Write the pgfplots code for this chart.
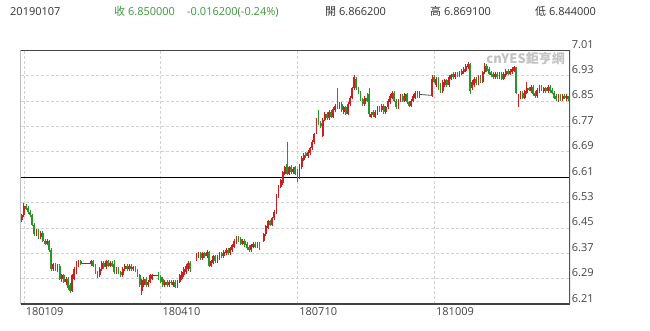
\documentclass[border=0pt]{standalone}
\usepackage{pgfplots}
\usepackage{pgfplotstable}
\pgfplotsset{compat=1.18}
\usepackage{fontspec}
\setmainfont{Open Sans}
\newfontfamily\cjk{Noto Sans CJK TC}
\definecolor{cred}{HTML}{CC2020}
\definecolor{cgreen}{HTML}{2A9428}
\definecolor{hdr}{HTML}{333333}
\definecolor{hgreen}{HTML}{3C963C}
\definecolor{lbl}{HTML}{444444}
\definecolor{framec}{HTML}{444444}
\definecolor{framer}{HTML}{3D5A75}
\pgfplotstableread{
x o h l c
0 6.475 6.495 6.468 6.490
1 6.490 6.528 6.485 6.520
2 6.520 6.525 6.505 6.510
3 6.512 6.518 6.495 6.500
4 6.500 6.505 6.485 6.490
5 6.490 6.495 6.455 6.460
6 6.460 6.465 6.425 6.430
7 6.430 6.445 6.425 6.440
8 6.440 6.445 6.415 6.420
9 6.420 6.440 6.415 6.435
10 6.435 6.440 6.405 6.410
11 6.410 6.415 6.395 6.400
12 6.400 6.415 6.395 6.410
13 6.410 6.412 6.375 6.380
14 6.380 6.385 6.315 6.320
15 6.320 6.340 6.315 6.335
16 6.335 6.340 6.315 6.320
17 6.320 6.335 6.310 6.330
18 6.330 6.335 6.285 6.290
19 6.290 6.305 6.280 6.300
20 6.300 6.305 6.275 6.280
21 6.280 6.295 6.270 6.290
22 6.290 6.295 6.255 6.260
23 6.270 6.275 6.245 6.250
24 6.250 6.305 6.248 6.300
25 6.290 6.325 6.285 6.320
26 6.310 6.345 6.305 6.340
27 6.330 6.350 6.325 6.345
28 6.345 6.350 6.332 6.337
33 6.335 6.350 6.330 6.345
34 6.345 6.350 6.325 6.330
35 6.330 6.335 6.305 6.310
36 6.310 6.315 6.292 6.300
37 6.300 6.325 6.295 6.320
38 6.320 6.345 6.315 6.340
39 6.340 6.345 6.320 6.325
40 6.325 6.350 6.320 6.345
41 6.345 6.350 6.325 6.330
42 6.330 6.345 6.325 6.340
43 6.340 6.345 6.325 6.330
44 6.335 6.348 6.305 6.310
45 6.310 6.325 6.305 6.320
46 6.320 6.325 6.305 6.310
47 6.310 6.315 6.295 6.300
48 6.300 6.325 6.295 6.320
49 6.320 6.335 6.315 6.330
50 6.330 6.335 6.315 6.320
51 6.320 6.335 6.315 6.330
52 6.330 6.335 6.315 6.320
53 6.320 6.330 6.315 6.325
54 6.325 6.330 6.310 6.315
55 6.315 6.320 6.295 6.300
56 6.300 6.305 6.265 6.270
57 6.250 6.290 6.238 6.285
58 6.270 6.295 6.265 6.290
59 6.290 6.295 6.265 6.270
60 6.270 6.285 6.265 6.280
61 6.280 6.305 6.275 6.300
62 6.290 6.305 6.285 6.300
65 6.300 6.310 6.285 6.290
66 6.295 6.300 6.275 6.280
67 6.290 6.295 6.265 6.270
68 6.270 6.285 6.265 6.280
69 6.280 6.285 6.265 6.270
70 6.270 6.285 6.265 6.280
71 6.280 6.285 6.270 6.275
72 6.270 6.285 6.265 6.280
73 6.280 6.285 6.260 6.265
74 6.265 6.285 6.260 6.280
75 6.280 6.305 6.275 6.300
76 6.290 6.315 6.285 6.310
77 6.300 6.325 6.295 6.320
78 6.310 6.335 6.305 6.330
79 6.320 6.345 6.315 6.340
80 6.340 6.345 6.310 6.320
83 6.350 6.370 6.345 6.365
84 6.360 6.375 6.355 6.370
85 6.370 6.375 6.350 6.355
86 6.355 6.375 6.350 6.370
87 6.370 6.375 6.355 6.360
88 6.360 6.380 6.355 6.375
89 6.375 6.378 6.325 6.330
90 6.330 6.350 6.325 6.345
91 6.340 6.365 6.335 6.360
92 6.360 6.365 6.340 6.345
93 6.345 6.365 6.340 6.360
94 6.355 6.375 6.350 6.370
95 6.370 6.375 6.355 6.360
96 6.360 6.380 6.355 6.375
97 6.370 6.385 6.365 6.380
98 6.380 6.385 6.365 6.370
99 6.370 6.390 6.365 6.385
100 6.380 6.400 6.375 6.395
101 6.390 6.415 6.385 6.410
102 6.405 6.425 6.400 6.420
103 6.420 6.425 6.405 6.410
104 6.415 6.420 6.395 6.400
105 6.400 6.415 6.395 6.410
106 6.410 6.415 6.390 6.395
107 6.400 6.405 6.380 6.385
108 6.390 6.395 6.375 6.380
109 6.380 6.400 6.375 6.395
110 6.390 6.405 6.385 6.400
111 6.400 6.405 6.385 6.390
112 6.390 6.405 6.385 6.400
113 6.400 6.405 6.380 6.385
115 6.410 6.435 6.405 6.430
116 6.430 6.460 6.425 6.455
117 6.450 6.475 6.445 6.470
118 6.470 6.475 6.455 6.460
119 6.460 6.485 6.455 6.480
120 6.480 6.505 6.475 6.500
121 6.500 6.555 6.495 6.550
122 6.550 6.585 6.545 6.580
123 6.580 6.605 6.575 6.600
124 6.590 6.630 6.585 6.625
125 6.620 6.645 6.615 6.640
126 6.650 6.720 6.615 6.620
127 6.620 6.645 6.615 6.640
128 6.640 6.648 6.620 6.625
129 6.625 6.640 6.620 6.635
130 6.640 6.645 6.615 6.620
131 6.630 6.635 6.595 6.600
132 6.610 6.650 6.605 6.645
133 6.640 6.675 6.635 6.670
134 6.665 6.685 6.660 6.680
135 6.685 6.690 6.670 6.675
136 6.675 6.695 6.670 6.690
137 6.685 6.705 6.680 6.700
138 6.700 6.725 6.695 6.720
139 6.720 6.750 6.715 6.745
140 6.750 6.795 6.745 6.790
141 6.800 6.820 6.775 6.780
142 6.780 6.785 6.765 6.770
143 6.740 6.795 6.735 6.790
144 6.790 6.815 6.785 6.810
145 6.810 6.815 6.790 6.795
146 6.795 6.820 6.790 6.815
147 6.815 6.820 6.795 6.800
148 6.800 6.830 6.795 6.825
149 6.820 6.840 6.815 6.835
150 6.845 6.890 6.825 6.830
151 6.830 6.845 6.825 6.840
152 6.840 6.845 6.815 6.820
153 6.815 6.835 6.810 6.830
154 6.830 6.835 6.805 6.810
155 6.810 6.845 6.805 6.840
156 6.840 6.865 6.835 6.860
157 6.860 6.895 6.855 6.890
158 6.890 6.932 6.885 6.925
159 6.920 6.925 6.885 6.890
160 6.890 6.895 6.870 6.875
161 6.875 6.880 6.850 6.855
162 6.855 6.860 6.835 6.840
163 6.840 6.865 6.835 6.860
164 6.860 6.875 6.845 6.850
165 6.870 6.890 6.800 6.810
166 6.800 6.815 6.795 6.810
167 6.815 6.820 6.800 6.805
168 6.800 6.820 6.795 6.815
169 6.810 6.835 6.805 6.830
170 6.830 6.835 6.815 6.820
171 6.820 6.840 6.815 6.835
172 6.835 6.840 6.810 6.815
173 6.815 6.835 6.810 6.830
174 6.830 6.855 6.825 6.850
175 6.845 6.870 6.840 6.865
176 6.860 6.880 6.855 6.875
177 6.875 6.880 6.845 6.850
178 6.850 6.855 6.825 6.830
179 6.830 6.855 6.825 6.850
180 6.850 6.870 6.845 6.865
181 6.865 6.870 6.845 6.850
182 6.850 6.875 6.845 6.870
183 6.870 6.875 6.840 6.845
184 6.845 6.850 6.830 6.835
185 6.835 6.855 6.830 6.850
186 6.850 6.870 6.845 6.865
187 6.860 6.880 6.855 6.875
188 6.875 6.880 6.860 6.865
189 6.865 6.882 6.860 6.875
195 6.867 6.932 6.862 6.920
196 6.925 6.930 6.905 6.910
197 6.900 6.925 6.895 6.920
198 6.920 6.925 6.885 6.890
199 6.900 6.905 6.875 6.880
200 6.880 6.915 6.875 6.910
201 6.900 6.920 6.895 6.915
202 6.915 6.920 6.895 6.900
203 6.900 6.930 6.895 6.925
204 6.920 6.935 6.915 6.930
205 6.935 6.940 6.920 6.925
206 6.925 6.940 6.920 6.935
207 6.935 6.940 6.925 6.930
208 6.930 6.945 6.925 6.940
209 6.935 6.950 6.930 6.945
210 6.940 6.955 6.935 6.950
211 6.945 6.965 6.940 6.960
212 6.955 6.972 6.950 6.965
213 6.965 6.970 6.870 6.880
214 6.890 6.915 6.885 6.910
215 6.900 6.925 6.895 6.920
216 6.920 6.925 6.900 6.905
217 6.905 6.930 6.900 6.925
218 6.925 6.930 6.905 6.910
219 6.910 6.945 6.905 6.940
220 6.940 6.970 6.935 6.960
221 6.960 6.965 6.940 6.945
222 6.950 6.955 6.930 6.935
223 6.940 6.945 6.925 6.930
224 6.935 6.940 6.920 6.925
225 6.925 6.940 6.920 6.935
226 6.935 6.940 6.920 6.925
227 6.925 6.940 6.920 6.935
228 6.935 6.940 6.915 6.920
229 6.920 6.940 6.915 6.935
230 6.930 6.950 6.925 6.945
231 6.945 6.950 6.930 6.935
232 6.935 6.950 6.930 6.945
233 6.940 6.955 6.935 6.950
234 6.945 6.960 6.940 6.955
235 6.955 6.958 6.870 6.875
236 6.840 6.870 6.830 6.865
237 6.860 6.880 6.855 6.875
238 6.875 6.880 6.855 6.860
239 6.860 6.885 6.855 6.880
240 6.875 6.910 6.870 6.890
241 6.890 6.895 6.880 6.885
242 6.880 6.900 6.875 6.895
243 6.895 6.900 6.865 6.870
244 6.875 6.880 6.860 6.865
245 6.865 6.890 6.860 6.885
246 6.880 6.900 6.875 6.895
247 6.895 6.900 6.880 6.885
248 6.880 6.895 6.875 6.890
249 6.890 6.895 6.875 6.880
250 6.880 6.900 6.875 6.895
251 6.895 6.900 6.875 6.880
252 6.885 6.890 6.870 6.875
253 6.875 6.880 6.855 6.860
254 6.865 6.870 6.850 6.855
255 6.850 6.870 6.845 6.865
256 6.865 6.870 6.850 6.855
257 6.855 6.870 6.850 6.865
258 6.865 6.870 6.855 6.860
259 6.855 6.870 6.850 6.8662
260 6.8662 6.8691 6.844 6.850
}\candles
\begin{document}
\begin{tikzpicture}
\useasboundingbox (0,0) rectangle (650pt,330pt);
\begin{axis}[
  at={(20.7pt,26pt)}, anchor=south west, scale only axis,
  width=549.3pt, height=254pt,
  xmin=-0.5, xmax=260.5, ymin=6.21, ymax=7.01,
  axis line style={draw=none},
  xtick={1,66,131,196},
  xticklabels={180109,180410,180710,181009},
  ytick={6.21,6.29,6.37,6.45,6.53,6.61,6.69,6.77,6.85,6.93,7.01},
  yticklabels={6.21,6.29,6.37,6.45,6.53,6.61,6.69,6.77,6.85,6.93,7.01},
  yticklabel pos=right,
  major tick length=0pt,
  grid=major,
  grid style={dash pattern=on 3pt off 2pt, draw=black!18, line width=0.6pt},
  xticklabel style={anchor=base west, inner sep=0pt, xshift=1.7pt, yshift=-11pt, text=lbl, font=\fontsize{11}{13}\selectfont},
  yticklabel style={anchor=base west, inner sep=0pt, xshift=1.7pt, yshift=2pt, text=lbl, font=\fontsize{11}{13}\selectfont},
]
\addplot[black, line width=0.8pt, mark=none] coordinates {(-0.5,6.61) (260.5,6.61)};
\addplot[black!70, line width=0.8pt, mark=none] coordinates {(28,6.337) (33,6.337)};
\addplot[black!70, line width=0.8pt, mark=none] coordinates {(62,6.300) (65,6.300)};
\addplot[black!70, line width=0.8pt, mark=none] coordinates {(189,6.870) (195,6.867)};
% up wicks
\addplot[draw=none, mark=none, restrict expr to domain={\thisrow{c}-\thisrow{o}}{0:1},
  error bars/.cd, y dir=plus, y explicit, error mark=none,
  error bar style={line width=0.8pt, color=cred}]
  table[x=x, y=l, y error plus expr=\thisrow{h}-\thisrow{l}] {\candles};
% down wicks
\addplot[draw=none, mark=none, restrict expr to domain={\thisrow{c}-\thisrow{o}}{-1:0},
  error bars/.cd, y dir=plus, y explicit, error mark=none,
  error bar style={line width=0.8pt, color=cgreen}]
  table[x=x, y=l, y error plus expr=\thisrow{h}-\thisrow{l}] {\candles};
% up bodies
\addplot[draw=none, mark=none, restrict expr to domain={\thisrow{c}-\thisrow{o}}{0:1},
  error bars/.cd, y dir=plus, y explicit, error mark=none,
  error bar style={line width=1.8pt, color=cred}]
  table[x=x, y=o, y error plus expr=\thisrow{c}-\thisrow{o}] {\candles};
% down bodies
\addplot[draw=none, mark=none, restrict expr to domain={\thisrow{c}-\thisrow{o}}{-1:0},
  error bars/.cd, y dir=plus, y explicit, error mark=none,
  error bar style={line width=1.8pt, color=cgreen}]
  table[x=x, y=c, y error plus expr=\thisrow{o}-\thisrow{c}] {\candles};
\draw[framec, line width=1.5pt] (rel axis cs:0,0) -- (rel axis cs:0,1) -- (rel axis cs:1,1);
\draw[framec, line width=1.5pt] (rel axis cs:0,0) -- (rel axis cs:1,0);
\draw[framer, line width=1.3pt] (rel axis cs:1,0) -- (rel axis cs:1,1);
\end{axis}
\begin{scope}[every node/.style={inner sep=0pt, anchor=base west, font=\fontsize{11}{13}\selectfont}]
\node[text=hdr] at (10pt,314.3pt) {20190107};
\node[text=hgreen] at (114pt,314.3pt) {{\cjk 收} 6.850000};
\node[text=hgreen] at (187pt,314.3pt) {-0.016200(-0.24\%)};
\node[text=hdr] at (325pt,314.3pt) {{\cjk 開} 6.866200};
\node[text=hdr] at (430pt,314.3pt) {{\cjk 高} 6.869100};
\node[text=hdr] at (535pt,314.3pt) {{\cjk 低} 6.844000};
\end{scope}
\node[inner sep=0pt, anchor=east, text=black!24, font=\cjk\bfseries\fontsize{13}{13}\selectfont] at (565pt,272pt) {cnYES鉅亨網};
\end{tikzpicture}
\end{document}
